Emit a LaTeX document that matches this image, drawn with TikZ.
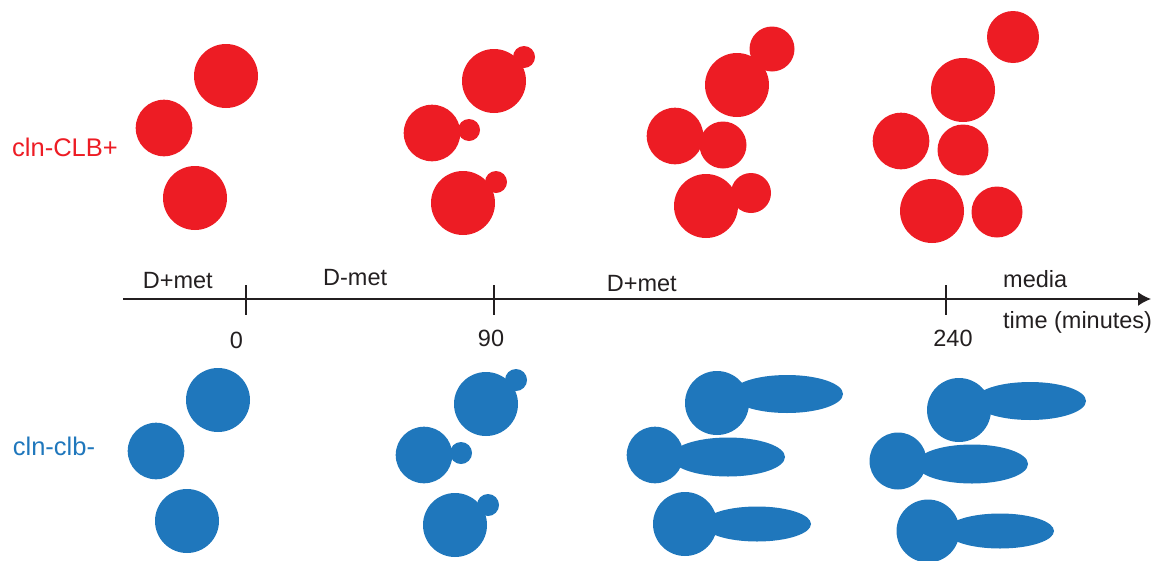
\documentclass[tikz,border=0pt]{standalone}
\usepackage{fontspec}
\setmainfont{Liberation Sans}
\usetikzlibrary{arrows.meta}
\definecolor{cellred}{HTML}{ED1C24}
\definecolor{cellblue}{HTML}{1F77BC}
\definecolor{ink}{HTML}{231F20}
\begin{document}
\begin{tikzpicture}[x=1pt,y=-1pt,
  redcell/.style={fill=cellred},
  bluecell/.style={fill=cellblue},
  lbl/.style={inner sep=0pt,anchor=base west,text=ink,font=\fontsize{23.5}{28}\selectfont},
  num/.style={inner sep=0pt,anchor=base,text=ink,font=\fontsize{23.5}{28}\selectfont},
  rowlbl/.style={inner sep=0pt,anchor=base west,font=\fontsize{25.5}{30}\selectfont},
  axis/.style={draw=ink,line width=1.6pt},
  tick/.style={draw=ink,line width=1.6pt}]
\useasboundingbox (0,0) rectangle (1169,560);

% ---- row labels ----
\node[rowlbl,text=cellred] (rowplus) at (12,156) {cln-CLB+};
\node[rowlbl,text=cellblue] (rowminus) at (12.7,455) {cln-clb-};

% ---- red cells: 0 min ----
\fill[redcell] (226,76) circle (32);
\fill[redcell] (164,128) circle (28.3);
\fill[redcell] (195,198) circle (32);
% ---- red cells: 90 min ----
\fill[redcell] (494,81) circle (32);
\fill[redcell] (524,57) circle (11);
\fill[redcell] (432,133) circle (28.3);
\fill[redcell] (469,130) circle (11);
\fill[redcell] (463,203) circle (32);
\fill[redcell] (496,182) circle (11);
% ---- red cells: 90-240 min ----
\fill[redcell] (737,85) circle (32);
\fill[redcell] (772,49) circle (22.5);
\fill[redcell] (675,136) circle (28.3);
\fill[redcell] (723,145) circle (23.5);
\fill[redcell] (706,206) circle (32);
\fill[redcell] (751,193) circle (20);
% ---- red cells: after 240 min ----
\fill[redcell] (1013,37) circle (26);
\fill[redcell] (963,90) circle (32);
\fill[redcell] (901,141) circle (28.3);
\fill[redcell] (963,150) circle (25.5);
\fill[redcell] (932,211) circle (32);
\fill[redcell] (997,212) circle (25.5);

% ---- time axis ----
\coordinate (axstart) at (123,299);
\coordinate (axend) at (1151,299);
\coordinate (t0) at (246,299);
\coordinate (t90) at (494,299);
\coordinate (t240) at (946,299);
\draw[axis,-{Latex[length=13pt,width=14pt]}] (axstart) -- (axend);
\foreach \t in {t0,t90,t240}
  \draw[tick] ([yshift=-15.5pt]\t) -- ([yshift=14pt]\t);

\node[lbl] (phase1) at (142.7,288.3) {D+met};
\node[lbl] (phase2) at (323,285.7) {D-met};
\node[lbl] (phase3) at (606.7,291) {D+met};
\node[lbl] (phase4) at (1003,287.3) {media};
\node[lbl] (axislbl) at (1003,328.3) {time (minutes)};
\node[num] (n0) at (236.5,348.3) {0};
\node[num] (n90) at (491,346.7) {90};
\node[num] (n240) at (953,346.7) {240};

% ---- blue cells: 0 min ----
\fill[bluecell] (218,400) circle (32);
\fill[bluecell] (156,451) circle (28.3);
\fill[bluecell] (187,521) circle (32);
% ---- blue cells: 90 min ----
\fill[bluecell] (486,404) circle (32);
\fill[bluecell] (516,380) circle (11);
\fill[bluecell] (424,455) circle (28.3);
\fill[bluecell] (461,453) circle (11);
\fill[bluecell] (455,525) circle (32);
\fill[bluecell] (488,505) circle (11);
% ---- blue cells: 90-240 min (elongated) ----
\fill[bluecell] (787,394) ellipse (56 and 19);
\fill[bluecell] (717,403) circle (32);
\fill[bluecell] (728,457) ellipse (57 and 19.5);
\fill[bluecell] (655,455) circle (28.3);
\fill[bluecell] (757,524) ellipse (54 and 17.5);
\fill[bluecell] (685,524) circle (32);
% ---- blue cells: after 240 min ----
\fill[bluecell] (1030,401) ellipse (56 and 19);
\fill[bluecell] (959,410) circle (32);
\fill[bluecell] (972,464) ellipse (56 and 19.5);
\fill[bluecell] (898,461) circle (28.5);
\fill[bluecell] (1000,531) ellipse (54 and 17.5);
\fill[bluecell] (928,531) circle (31.5);
\end{tikzpicture}
\end{document}
